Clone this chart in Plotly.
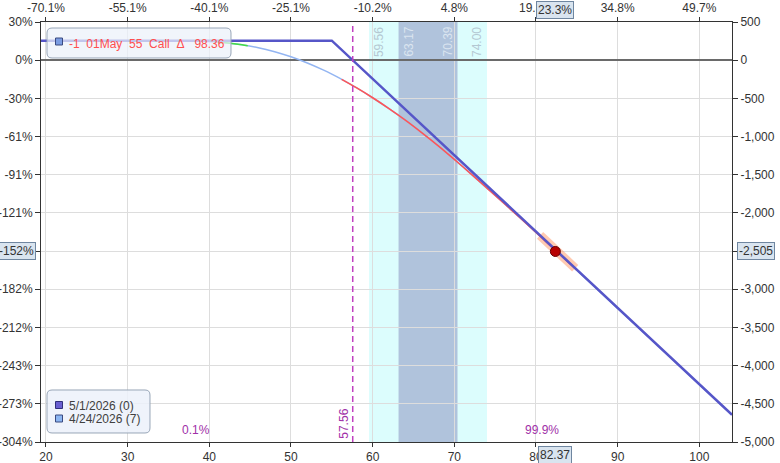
import plotly.graph_objects as go

# ---------------- data ----------------
exp_price = [19.39, 55.0, 104.0]
exp_pl = [256, 256, -4644]

t7_price = [19.39, 30, 35, 38, 40, 42, 44, 46, 48, 50, 52, 54, 55, 56, 58, 60, 62, 64, 66, 68,
            70, 72, 74, 76, 78, 80, 82, 85, 90, 95, 100, 104.0]
t7_pl = [256, 256, 254, 250, 242, 227, 201, 164, 111, 44, -37, -131, -183, -239, -360, -492,
         -634, -785, -948, -1118, -1299, -1485, -1675, -1867, -2061, -2257, -2454, -2751,
         -3250, -3746, -4245, -4644]

green_range = [41.0, 44.7]
red_range = [56.2, 85.0]

cur_x = 82.37
cur_pl = -2505
halo_range = [80.5, 84.8]

strike_be = 57.56
band_outer = [59.56, 74.00]
band_inner = [63.17, 70.39]

x_ticks = [20, 30, 40, 50, 60, 70, 80, 90, 100]
x_top_text = ["-70.1%", "-55.1%", "-40.1%", "-25.1%", "-10.2%", "4.8%", "19.8%", "34.8%", "49.7%"]
y_ticks = [500, 0, -500, -1000, -1500, -2000, -2500, -3000, -3500, -4000, -4500, -5000]
y_left_text = ["30%", "0%", "-30%", "-61%", "-91%", "-121%", "-152%", "-182%", "-212%",
               "-243%", "-273%", "-304%"]
y_right_text = ["500", "0", "-500", "-1,000", "-1,500", "-2,000", "-2,500", "-3,000",
                "-3,500", "-4,000", "-4,500", "-5,000"]

prob_left = "0.1%"
prob_right = "99.9%"
NB = "\u00a0"
legend_top = f"-1{NB*2}01May{NB*2}55{NB*2}Call{NB*2}Δ{NB*3}98.36"
legend_items = ["5/1/2026 (0)", "4/24/2026 (7)"]

# ---------------- helpers ----------------
X_RANGE = [19.39, 104.0]
Y_RANGE = [-5000, 500]
W, H = 780, 463
PL, PR, PT, PB = 41, 732, 22, 442

def pxx(x):
    return (x - PL) / (PR - PL)

def pyy(y):
    return (PB - y) / (PB - PT)

def rrect(x0, y0, x1, y1, r):
    def p(x, y):
        return f"{pxx(x):.5f},{pyy(y):.5f}"
    return (f"M {p(x0+r,y0)} L {p(x1-r,y0)} Q {p(x1,y0)} {p(x1,y0+r)} "
            f"L {p(x1,y1-r)} Q {p(x1,y1)} {p(x1-r,y1)} L {p(x0+r,y1)} "
            f"Q {p(x0,y1)} {p(x0,y1-r)} L {p(x0,y0+r)} Q {p(x0,y0)} {p(x0+r,y0)} Z")

def interp(xs, ys, x):
    for i in range(len(xs) - 1):
        if xs[i] <= x <= xs[i + 1]:
            t = (x - xs[i]) / (xs[i + 1] - xs[i])
            return ys[i] + t * (ys[i + 1] - ys[i])
    return ys[-1]

def segment(xs, ys, a, b):
    sx = [a] + [x for x in xs if a < x < b] + [b]
    sy = [interp(xs, ys, x) for x in sx]
    return sx, sy

FONT = "Liberation Sans, Arial, sans-serif"
EXP_COLOR = "#5656c8"
T7_COLOR = "#93b5f2"

fig = go.Figure()

# halo around current point
hx, hy = segment(exp_price, exp_pl, halo_range[0], halo_range[1])
fig.add_trace(go.Scatter(x=hx, y=hy, mode="lines",
                         line=dict(color="rgba(255,150,100,0.5)", width=9),
                         hoverinfo="skip", showlegend=False))

# T+7 curve
fig.add_trace(go.Scatter(x=t7_price, y=t7_pl, mode="lines", line_shape="spline",
                         line=dict(color=T7_COLOR, width=1.5, smoothing=0.8), showlegend=False))
gx, gy = segment(t7_price, t7_pl, green_range[0], green_range[1])
fig.add_trace(go.Scatter(x=gx, y=gy, mode="lines", line_shape="spline",
                         line=dict(color="#44dd44", width=1.5, smoothing=0.8), showlegend=False))
rx_, ry_ = segment(t7_price, t7_pl, red_range[0], red_range[1])
fig.add_trace(go.Scatter(x=rx_, y=ry_, mode="lines", line_shape="spline",
                         line=dict(color="#ff5555", width=1.5, smoothing=0.8), showlegend=False))

# expiration
fig.add_trace(go.Scatter(x=exp_price, y=exp_pl, mode="lines",
                         line=dict(color=EXP_COLOR, width=2.5), showlegend=False))

# current point
fig.add_trace(go.Scatter(x=[cur_x], y=[cur_pl], mode="markers",
                         marker=dict(color="#b80000", size=10,
                                     line=dict(color="#6a0000", width=1)),
                         showlegend=False))
# trace for secondary axes
fig.add_trace(go.Scatter(x=[cur_x], y=[cur_pl], xaxis="x2", yaxis="y2", mode="markers",
                         marker=dict(opacity=0), hoverinfo="skip", showlegend=False))

shapes = []
shapes.append(dict(type="rect", xref="x", yref="paper", x0=band_outer[0], x1=band_outer[1],
                   y0=0, y1=1, fillcolor="#dcfdfd", line=dict(width=0), layer="below"))
shapes.append(dict(type="rect", xref="x", yref="paper", x0=band_inner[0], x1=band_inner[1],
                   y0=0, y1=1, fillcolor="#b0c3dc", line=dict(width=0), layer="below"))
shapes.append(dict(type="line", xref="x", yref="paper", x0=strike_be, x1=strike_be,
                   y0=0, y1=1, line=dict(color="#c040c0", width=1.5, dash="6px,4px")))

# legend boxes
shapes.append(dict(type="path", xref="paper", yref="paper", path=rrect(47, 28, 231, 58, 5),
                   fillcolor="rgba(236,241,250,0.72)", line=dict(color="#98a6b8", width=1)))
shapes.append(dict(type="rect", xref="paper", yref="paper", x0=pxx(55.5), x1=pxx(62.5),
                   y0=pyy(45), y1=pyy(38), fillcolor="#7b9ce2", line=dict(color="#3a4a80", width=1)))
shapes.append(dict(type="path", xref="paper", yref="paper", path=rrect(47, 390, 150, 433, 5),
                   fillcolor="rgba(236,241,250,0.85)", line=dict(color="#98a6b8", width=1)))
shapes.append(dict(type="rect", xref="paper", yref="paper", x0=pxx(55.5), x1=pxx(62.5),
                   y0=pyy(408.5), y1=pyy(401.5), fillcolor="#6a5fd0", line=dict(color="#30307a", width=1)))
shapes.append(dict(type="rect", xref="paper", yref="paper", x0=pxx(55.5), x1=pxx(62.5),
                   y0=pyy(422), y1=pyy(415), fillcolor="#8cb6f2", line=dict(color="#3a4a80", width=1)))

ann = []
ann.append(dict(xref="paper", yref="paper", x=pxx(67), y=pyy(43.5), xanchor="left",
                yanchor="middle", text=legend_top, showarrow=False,
                font=dict(family=FONT, size=12, color="#ff4f4f")))
ann.append(dict(xref="paper", yref="paper", x=pxx(67), y=pyy(405.5), xanchor="left",
                yanchor="middle", text=legend_items[0], showarrow=False,
                font=dict(family=FONT, size=12, color="#404040")))
ann.append(dict(xref="paper", yref="paper", x=pxx(67), y=pyy(419), xanchor="left",
                yanchor="middle", text=legend_items[1], showarrow=False,
                font=dict(family=FONT, size=12, color="#404040")))

# band labels
for val, anchor, col in [(band_outer[0], "left", "#b4c8d2"), (band_inner[0], "left", "#dbe5f0"),
                         (band_inner[1], "right", "#dbe5f0"), (band_outer[1], "right", "#b4c8d2")]:
    ann.append(dict(xref="x", yref="paper", x=val, y=1, xanchor=anchor, yanchor="top",
                    text=f"{val:.2f}", textangle=-90, showarrow=False, yshift=-3,
                    xshift=1 if anchor == "left" else -1,
                    font=dict(family=FONT, size=12, color=col)))
ann.append(dict(xref="x", yref="paper", x=strike_be, y=0, xanchor="right", yanchor="bottom",
                text=f"{strike_be:.2f}", textangle=-90, showarrow=False, yshift=1, xshift=0,
                font=dict(family=FONT, size=12, color="#a030a8")))
ann.append(dict(xref="paper", yref="paper", x=pxx(196), y=pyy(430), xanchor="center",
                yanchor="middle", text=prob_left, showarrow=False,
                font=dict(family=FONT, size=12, color="#a030a8")))
ann.append(dict(xref="paper", yref="paper", x=pxx(542), y=pyy(430), xanchor="center",
                yanchor="middle", text=prob_right, showarrow=False,
                font=dict(family=FONT, size=12, color="#a030a8")))

# highlight boxes
BOX = dict(bgcolor="#d9e4ef", bordercolor="#6f86a0", borderwidth=1, borderpad=1,
           showarrow=False, font=dict(family=FONT, size=12, color="#333333"))
pct = "23.3%"
ann.append(dict(xref="x", yref="paper", x=cur_x, y=1, xanchor="center", yanchor="bottom",
                yshift=3, text=pct, **BOX))
ann.append(dict(xref="x", yref="paper", x=cur_x, y=0, xanchor="center", yanchor="top",
                yshift=-4, text=f"{cur_x:.2f}", **BOX))
ann.append(dict(xref="paper", yref="y", x=0, y=cur_pl, xanchor="right", yanchor="middle",
                xshift=-5, text="-152%", **BOX))
ann.append(dict(xref="paper", yref="y", x=1, y=cur_pl, xanchor="left", yanchor="middle",
                xshift=5, text=f"{cur_pl:,}", **BOX))

TICKFONT = dict(family=FONT, size=12, color="#333333")
common_x = dict(range=X_RANGE, tickvals=x_ticks, ticks="outside", ticklen=4, tickcolor="#333",
                showline=True, linecolor="#333", linewidth=1, automargin=False,
                tickfont=TICKFONT, zeroline=False)
common_y = dict(range=Y_RANGE, tickvals=y_ticks, ticks="outside", ticklen=5, tickcolor="#333",
                showline=True, linecolor="#333", linewidth=1, automargin=False,
                tickfont=TICKFONT)

fig.update_layout(
    template="none",
    width=W, height=H,
    margin=dict(l=PL, r=W - PR, t=PT, b=H - PB, pad=0),
    paper_bgcolor="white", plot_bgcolor="white",
    showlegend=False,
    hovermode=False,
    xaxis=dict(**common_x, ticktext=[str(v) for v in x_ticks], showgrid=True,
               gridcolor="#dddddd", gridwidth=1),
    xaxis2=dict(**common_x, ticktext=x_top_text, overlaying="x", side="top",
                showgrid=False, anchor="y"),
    yaxis=dict(**common_y, ticktext=y_left_text, showgrid=True, gridcolor="#dddddd",
               gridwidth=1, zeroline=True, zerolinecolor="#6a6a6a", zerolinewidth=1.5),
    yaxis2=dict(**common_y, ticktext=y_right_text, overlaying="y", side="right",
                showgrid=False, zeroline=False, anchor="x"),
    shapes=shapes,
    annotations=ann,
)

fig.write_html("out.html", config={"displayModeBar": False},
               post_script="document.body.style.margin='0';document.body.style.overflow='hidden';")
